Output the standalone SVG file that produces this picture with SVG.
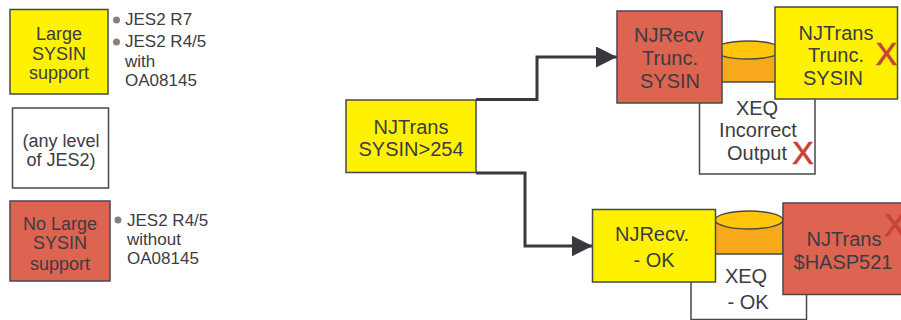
<svg xmlns="http://www.w3.org/2000/svg" width="901" height="320" viewBox="0 0 901 320">
<style>
text{font-family:"Liberation Sans",Arial,sans-serif;fill:#3c3c42;text-anchor:middle}
.s{font-size:18px}.m{font-size:20px}.l{text-anchor:start;font-size:17px}
.b{stroke:#48484c;stroke-width:1.5}
.y{fill:#fff200}.r{fill:#dc6450}.w{fill:#fff}
.d{fill:#8c7f7a}
text.x{fill:#c8423a;stroke:#c8423a;stroke-width:.7;font-size:32px}
.c{fill:none;stroke:#38383e;stroke-width:3}
.body{fill:#f7a81b;stroke:#48484c;stroke-width:1.5}
.top{fill:#ffc60b;stroke:#48484c;stroke-width:1.5}
</style>
<defs><marker id="a" markerUnits="userSpaceOnUse" markerWidth="22" markerHeight="22" refX="21" refY="10.5" orient="auto"><path d="M0 0L21 10.5L0 21Z" fill="#38383e"/></marker></defs>
<g id="legend-large"><rect class="b y" x="10" y="9.500" width="98" height="84.500"/><text class="s" x="59" y="40">Large</text><text class="s" x="59" y="60">SYSIN</text><text class="s" x="59" y="79">support</text></g>
<g id="legend-large-notes"><circle class="d" cx="116.500" cy="20" r="3.500"/><circle class="d" cx="116.500" cy="42" r="3.500"/><text class="l" x="125" y="25">JES2 R7</text><text class="l" x="125" y="47">JES2 R4/5</text><text class="l" x="125" y="67">with</text><text class="l" x="125" y="86">OA08145</text></g>
<g id="legend-any"><rect class="b w" x="12.500" y="108" width="96" height="80"/><text class="s" x="61" y="147">(any level</text><text class="s" x="61" y="166">of JES2)</text></g>
<g id="legend-none"><rect class="b r" x="10" y="201" width="100" height="80"/><text class="s" x="60" y="230">No Large</text><text class="s" x="60" y="249">SYSIN</text><text class="s" x="60" y="270">support</text></g>
<g id="legend-none-notes"><circle class="d" cx="118" cy="220" r="3.500"/><text class="l" x="127" y="226">JES2 R4/5</text><text class="l" x="127" y="245">without</text><text class="l" x="127" y="264">OA08145</text></g>
<g id="connectors"><path class="c" marker-end="url(#a)" d="M476 99.500H537V57H617"/><path class="c" marker-end="url(#a)" d="M476 173H525V246H592.500"/></g>
<g id="source"><rect class="b y" x="346" y="100" width="130" height="72.500"/><text class="m" x="411" y="134">NJTrans</text><text class="m" x="411" y="156">SYSIN&gt;254</text></g>
<g id="xeq-top"><rect class="b w" x="699.500" y="80" width="115.500" height="94"/><text class="m" x="757" y="115">XEQ</text><text class="m" x="758" y="137">Incorrect</text><text class="m" x="757" y="160">Output</text><text class="x" x="803" y="163.500">X</text></g>
<g id="cyl-top"><path class="body" d="M714 50V82H782V50Z"/><ellipse class="top" cx="748" cy="50" rx="34" ry="9"/></g>
<g id="recv-top"><rect class="b r" x="617" y="11" width="105" height="92"/><text class="m" x="669" y="42">NJRecv</text><text class="m" x="670" y="65">Trunc.</text><text class="m" x="670" y="88">SYSIN</text></g>
<g id="trans-top"><rect class="b y" x="775" y="7" width="122.500" height="92"/><text class="m" x="836" y="40">NJTrans</text><text class="m" x="836" y="62">Trunc.</text><text class="m" x="833" y="85">SYSIN</text><text class="x" x="886.500" y="65">X</text></g>
<g id="xeq-bottom"><rect class="b w" x="691" y="250" width="115.500" height="69.500"/><text class="m" x="746" y="283">XEQ</text><text class="m" x="748" y="309">- OK</text></g>
<g id="cyl-bottom"><path class="body" d="M715 220V254H783V220Z"/><ellipse class="top" cx="749" cy="220" rx="34" ry="9"/></g>
<g id="recv-bottom"><rect class="b y" x="592.500" y="209.500" width="123" height="72.500"/><text class="m" x="652" y="241">NJRecv.</text><text class="m" x="654" y="267">- OK</text></g>
<g id="trans-bottom"><rect class="b r" x="783" y="203" width="120" height="91.500"/><text class="m" x="844" y="246">NJTrans</text><text class="m" x="843" y="269">$HASP521</text><text class="x" x="895" y="236">X</text></g>
</svg>
